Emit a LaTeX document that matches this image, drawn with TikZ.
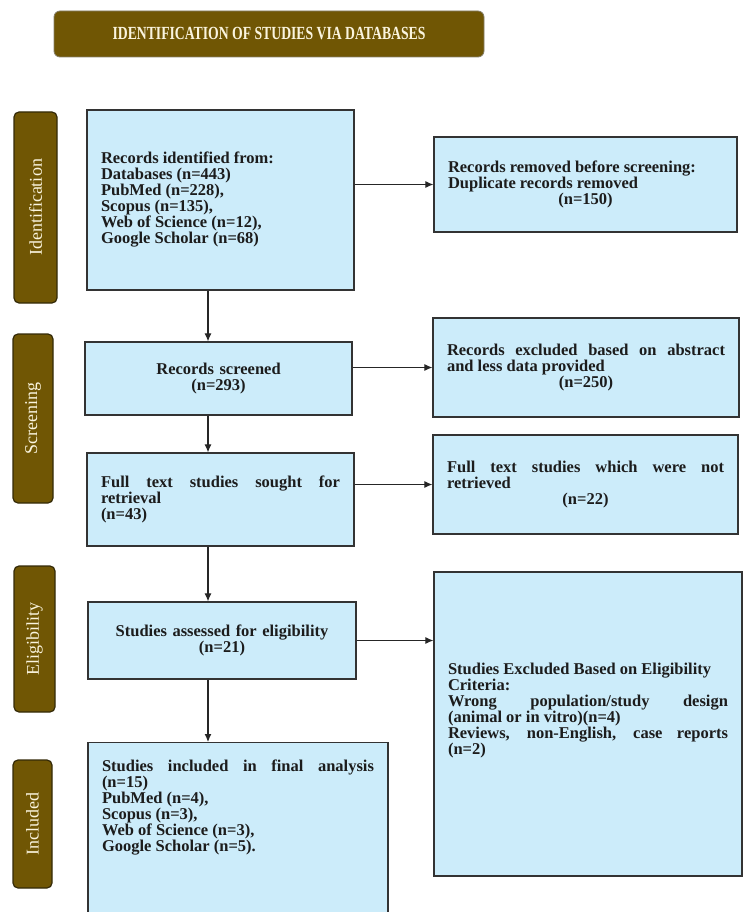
\documentclass[tikz,border=0pt]{standalone}
\usepackage{fontspec}
\setmainfont{Liberation Serif}
\usetikzlibrary{arrows.meta}
\definecolor{mybrown}{RGB}{112, 86, 4}
\definecolor{mydark}{RGB}{52, 42, 8}
\definecolor{myblue}{RGB}{204, 236, 250}
\definecolor{mycream}{RGB}{250, 244, 222}
\definecolor{mytext}{RGB}{28, 28, 28}
\setlength{\parindent}{0pt}
\hyphenpenalty=10000
\exhyphenpenalty=10000
\tolerance=10000

\begin{document}
\begin{tikzpicture}[x=1pt, y=-1pt,
    phase/.style={draw=mydark, line width=1.2pt, fill=mybrown, rounded corners=5pt, rotate=90,
        text=mycream, font=\fontsize{18}{18}\selectfont},
    flowbox/.style={draw=black!80, line width=1.2pt, fill=myblue, text=mytext, inner xsep=14pt,
        font=\fontsize{16.5}{16}\selectfont\bfseries},
    arrow/.style={draw=black!85, line width=1.1pt, -{Latex[length=8pt,width=7pt]}}]
        \useasboundingbox (0,0) rectangle (745,912);
        \clip (0,0) rectangle (745,912);

        % Title banner
        \node[draw=mydark!60, line width=0.8pt, fill=mybrown, rounded corners=6pt, minimum width=430pt,
            minimum height=46pt, text=mycream, font=\fontsize{13.7}{15}\selectfont\bfseries]
            (title) at (269,34) {\scalebox{1}[1.35]{IDENTIFICATION OF STUDIES VIA DATABASES}};

        % Phase labels on the left
        \node[phase, minimum width=191pt, minimum height=43pt] (identification) at (35.5,207.5) {Identification};
        \node[phase, minimum width=169pt, minimum height=40pt] (screening) at (33,418.5) {Screening};
        \node[phase, minimum width=146pt, minimum height=41pt] (eligibility) at (34.5,639) {Eligibility};
        \node[phase, minimum width=128pt, minimum height=39pt] (includedphase) at (32.5,824) {Included};

        % Main column
        \node[flowbox, text width=239pt, minimum height=180pt, align=justify] (records) at (220.5,200)
            {Records identified from:\\ Databases (n=443)\\ PubMed (n=228),\\ Scopus (n=135),\\
             Web of Science (n=12),\\ Google Scholar (n=68)};
        \node[flowbox, text width=239pt, minimum height=73pt, align=center] (screened) at (218.5,378.5)
            {Records screened\\ (n=293)};
        \node[flowbox, text width=239pt, minimum height=93pt, align=justify] (fulltext) at (220.5,499.5)
            {Full text studies sought for\linebreak retrieval\\ (n=43)};
        \node[flowbox, text width=240pt, minimum height=77pt, align=center] (assessed) at (222,640.5)
            {Studies assessed for eligibility\\ (n=21)};
        \node[flowbox, text width=272pt, minimum height=200pt, align=justify, anchor=north] (included) at (238,742)
            {Studies included in final analysis\linebreak (n=15)\\ PubMed (n=4),\\ Scopus (n=3),\\
             Web of Science (n=3),\\ Google Scholar (n=5).\par\vspace*{70pt}};

        % Right column
        \node[flowbox, text width=275pt, minimum height=95pt, align=justify] (removed) at (585.5,184.5)
            {Records removed before screening:\\ Duplicate records removed\par\centerline{(n=150)}};
        \node[flowbox, text width=278pt, minimum height=99pt, align=justify] (excluded) at (586,367.5)
            {Records excluded based on abstract\linebreak and less data provided\par\centerline{(n=250)}};
        \node[flowbox, text width=277pt, minimum height=99pt, align=justify] (notretrieved) at (585.5,484.5)
            {Full text studies which were not\linebreak retrieved\par\centerline{(n=22)}};
        \node[flowbox, text width=280pt, minimum height=304pt, align=justify] (ineligible) at (588,724)
            {Studies Excluded Based on Eligibility\\ Criteria:\\ Wrong population/study design\linebreak
             (animal or in vitro)(n=4)\\ Reviews, non-English, case reports\linebreak (n=2)\par\vspace*{26pt}};

        % Arrows down the main column
        \coordinate (spine) at (208,0);
        \draw[arrow] (records.south -| spine) -- (screened.north -| spine);
        \draw[arrow] (screened.south -| spine) -- (fulltext.north -| spine);
        \draw[arrow] (fulltext.south -| spine) -- (assessed.north -| spine);
        \draw[arrow] (assessed.south -| spine) -- (included.north -| spine);

        % Arrows to the right column
        \draw[arrow] (records.east |- removed.west) -- (removed.west);
        \draw[arrow] (screened.east |- excluded.west) -- (excluded.west);
        \draw[arrow] (fulltext.east |- notretrieved.west) -- (notretrieved.west);
        \draw[arrow] (assessed.east) -- (assessed.east -| ineligible.west);
    \end{tikzpicture}
\end{document}
